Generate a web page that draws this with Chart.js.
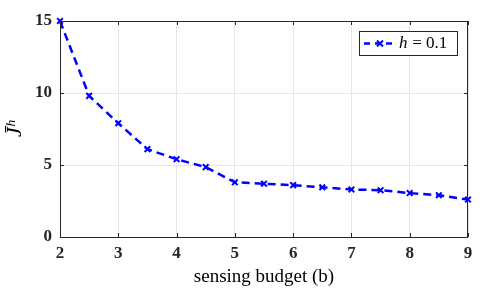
<!DOCTYPE html>
<html>
<head>
<meta charset="utf-8">
<script src="https://cdn.jsdelivr.net/npm/chart.js@4/dist/chart.umd.min.js"></script>
<style>
  html, body { margin: 0; padding: 0; background: #fff; }
  #wrap { width: 490px; height: 292px; }
</style>
</head>
<body>
<div id="wrap"><canvas id="chart" width="490" height="292"></canvas></div>
<script>
const budget = [2, 2.5, 3, 3.5, 4, 4.5, 5, 5.5, 6, 6.5, 7, 7.5, 8, 8.5, 9];
const jBar = [15, 9.8, 7.9, 6.1, 5.4, 4.85, 3.8, 3.7, 3.6, 3.45, 3.3, 3.25, 3.05, 2.9, 2.6];
const seriesLabel = 'h = 0.1';
const xTicks = [2, 3, 4, 5, 6, 7, 8, 9];
const yTicks = [0, 5, 10, 15];

const serif = '"Liberation Serif", "DejaVu Serif", serif';

// box, inward ticks and legend drawn on top, like matlab
const boxPlugin = {
  id: 'box',
  afterDraw(chart) {
    const { ctx, chartArea: a, scales } = chart;
    ctx.save();
    ctx.strokeStyle = '#262626';
    ctx.lineWidth = 1;
    ctx.strokeRect(a.left + 0.5, a.top + 0.5, a.right - a.left - 1, a.bottom - a.top);
    ctx.beginPath();
    xTicks.forEach(v => {
      const x = Math.round(scales.x.getPixelForValue(v)) + 0.5;
      ctx.moveTo(x, a.bottom); ctx.lineTo(x, a.bottom - 4);
      ctx.moveTo(x, a.top); ctx.lineTo(x, a.top + 4);
    });
    yTicks.forEach(v => {
      const y = Math.round(scales.y.getPixelForValue(v)) + 0.5;
      ctx.moveTo(a.left, y); ctx.lineTo(a.left + 4, y);
      ctx.moveTo(a.right, y); ctx.lineTo(a.right - 4, y);
    });
    ctx.stroke();

    // legend
    const lx = 359, ly = 31, lw = 98, lh = 24;
    ctx.fillStyle = '#fff';
    ctx.fillRect(lx, ly, lw, lh);
    ctx.strokeStyle = '#262626';
    ctx.strokeRect(lx + 0.5, ly + 0.5, lw, lh);
    const my = ly + lh / 2 + 0.5;
    ctx.strokeStyle = '#0000ff';
    ctx.lineWidth = 2.5;
    ctx.setLineDash([6, 5]);
    ctx.beginPath();
    ctx.moveTo(lx + 5, my); ctx.lineTo(lx + 37, my);
    ctx.stroke();
    ctx.setLineDash([]);
    ctx.lineWidth = 2;
    const cx = lx + 21;
    ctx.beginPath();
    ctx.moveTo(cx - 3, my - 3); ctx.lineTo(cx + 3, my + 3);
    ctx.moveTo(cx + 3, my - 3); ctx.lineTo(cx - 3, my + 3);
    ctx.stroke();
    ctx.fillStyle = '#000';
    ctx.textBaseline = 'middle';
    ctx.font = 'italic 17px ' + serif;
    ctx.fillText('h', lx + 40, my);
    ctx.font = '17px ' + serif;
    ctx.fillText(seriesLabel.slice(1), lx + 49, my);
    ctx.restore();
  }
};

new Chart(document.getElementById('chart'), {
  type: 'line',
  data: {
    labels: budget,
    datasets: [{
      label: seriesLabel,
      data: budget.map((b, i) => ({ x: b, y: jBar[i] })),
      borderColor: '#0000ff',
      backgroundColor: '#0000ff',
      borderWidth: 2.5,
      borderDash: [8, 5],
      pointStyle: 'crossRot',
      pointRadius: 4,
      pointBorderWidth: 2,
      fill: false,
      tension: 0,
      clip: false
    }]
  },
  options: {
    responsive: false,
    animation: false,
    layout: { padding: { top: 21, right: 22, left: 0, bottom: 0 } },
    plugins: { legend: { display: false }, tooltip: { enabled: false } },
    scales: {
      x: {
        type: 'linear',
        min: 2, max: 9,
        afterBuildTicks: s => { s.ticks = xTicks.map(v => ({ value: v })); },
        afterFit: s => { s.height = 55; },
        grid: { color: '#e6e6e6', drawTicks: false },
        border: { display: false },
        ticks: { color: '#262626', padding: 6, font: { family: serif, size: 17, weight: 'bold' } },
        title: { display: true, text: 'sensing budget (b)', color: '#000', padding: { top: 0 }, font: { family: serif, size: 19 } }
      },
      y: {
        min: 0, max: 15,
        afterBuildTicks: s => { s.ticks = yTicks.map(v => ({ value: v })); },
        afterFit: s => { s.width = 60; },
        grid: { color: '#e6e6e6', drawTicks: false },
        border: { display: false },
        ticks: { color: '#262626', padding: 8, font: { family: serif, size: 17, weight: 'bold' } },
        title: { display: true, text: 'J̄ʰ', color: '#000', padding: { bottom: 0, top: 2 }, font: { family: serif, size: 22, style: 'italic' } }
      }
    }
  },
  plugins: [boxPlugin]
});
</script>
</body>
</html>
